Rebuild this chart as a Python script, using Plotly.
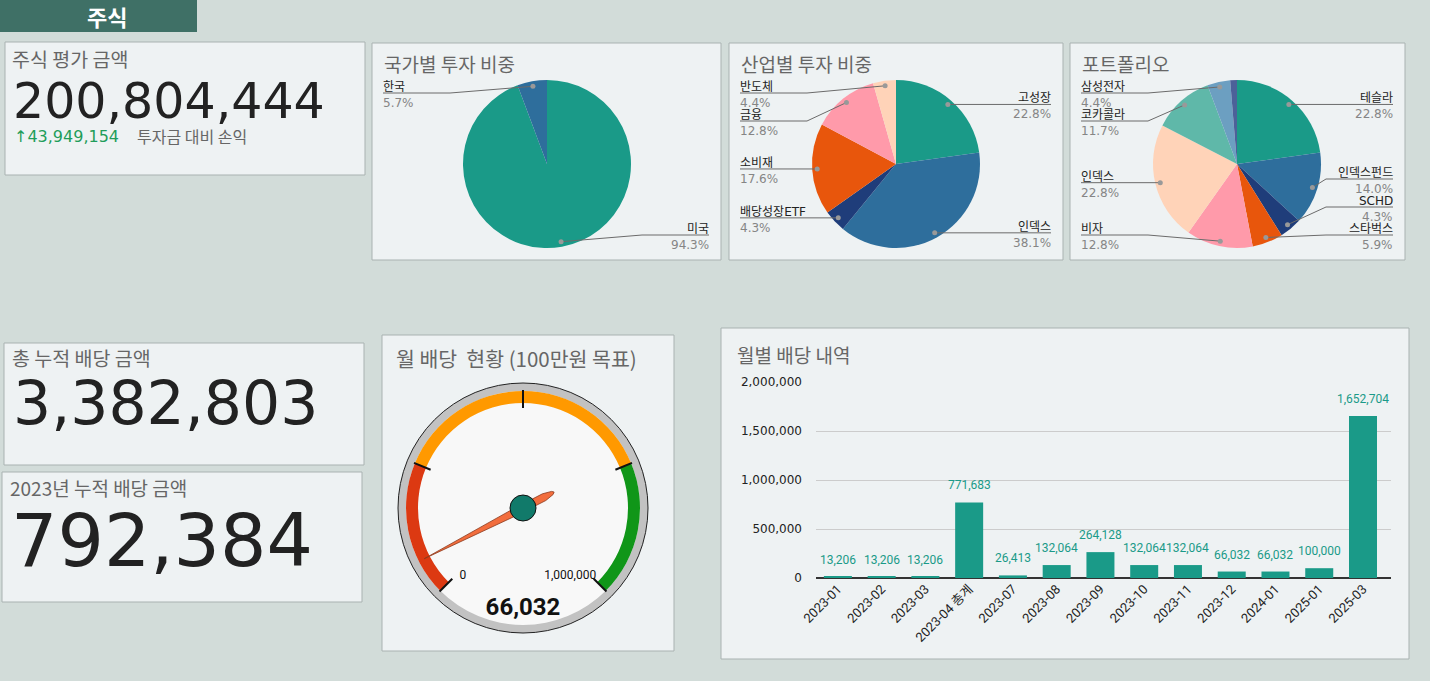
import math
import plotly.graph_objects as go

W, H = 1430, 681

# ---- data ----
stock_value = 200804444
stock_profit = 43949154
total_dividend = 3382803
dividend_2023 = 792384

country_labels = ["미국", "한국"]
country_values = [94.3, 5.7]

industry_labels = ["고성장", "인덱스", "배당성장ETF", "소비재", "금융", "반도체"]
industry_values = [22.8, 38.1, 4.3, 17.6, 12.8, 4.4]

portfolio_labels = ["테슬라", "인덱스펀드", "SCHD", "스타벅스", "비자", "인덱스", "코카콜라", "삼성전자", "기타"]
portfolio_values = [22.8, 14.0, 4.3, 5.9, 12.8, 22.8, 11.7, 4.4, 1.3]

gauge_value = 66032
gauge_max = 1000000
gauge_ticks = [0, 250000, 500000, 750000, 1000000]
gauge_bands = [(0, 250000), (250000, 750000), (750000, 1000000)]

months = ["2023-01", "2023-02", "2023-03", "2023-04 총계", "2023-07", "2023-08", "2023-09",
          "2023-10", "2023-11", "2023-12", "2024-01", "2025-01", "2025-03"]
month_dividends = [13206, 13206, 13206, 771683, 26413, 132064, 264128,
                   132064, 132064, 66032, 66032, 100000, 1652704]

# ---- style ----
KR = "Noto Sans CJK KR"
DV = "DejaVu Sans"
BG = "#d2dcd9"
PANEL = "#eef2f3"
PANEL_LINE = "#a9b2b1"
TEAL = "#1a9a88"
PIE_COLORS = ["#1a9a88", "#2e6e9c", "#1f3d7a", "#e8560c", "#ff9aaa",
              "#ffd3b8", "#5fb8a9", "#6c9fc1", "#4c6199"]
BAND_COLORS = ["#dc3912", "#ff9900", "#109618"]


def fx(x):
    return x / W


def fy(y):
    return 1 - y / H


shapes = []
annotations = []


def add_text(text, x, y, size, color="#666666", family=KR, anchor="left", bold=False):
    if anchor == "left":
        x -= 2  # annotation box padding
    annotations.append(dict(
        text=f"<b>{text}</b>" if bold else text, x=fx(x), y=fy(y), xref="paper", yref="paper",
        xanchor=anchor, yanchor="middle", showarrow=False,
        font=dict(size=size, color=color, family=family)))


# panel boxes
panels = [(5, 42, 365, 175), (372, 43, 721, 260), (729, 43, 1063, 260), (1070, 43, 1405, 260),
          (4, 343, 364, 465), (2, 472, 362, 602), (382, 335, 674, 651), (721, 328, 1409, 659)]
for x0, y0, x1, y1 in panels:
    shapes.append(dict(type="rect", xref="paper", yref="paper", layer="below",
                       x0=fx(x0), x1=fx(x1), y0=fy(y1), y1=fy(y0),
                       fillcolor=PANEL, line=dict(color=PANEL_LINE, width=1)))
shapes.append(dict(type="rect", xref="paper", yref="paper", layer="below",
                   x0=0, x1=fx(197), y0=fy(32), y1=1, fillcolor="#3f7066", line=dict(width=0)))

# header and KPI text
add_text("주식", 107, 16, 22, "white", anchor="center", bold=True)
add_text("주식 평가 금액", 12, 58, 19.5)
add_text(f"{stock_value:,}", 13, 101, 49, "#222222", DV)
add_text(f"↑{stock_profit:,}", 14, 136, 16, "#1f9d5a", DV)
add_text("투자금 대비 손익", 137, 136, 16)
add_text("총 누적 배당 금액", 12, 357, 19.5)
add_text(f"{total_dividend:,}", 13, 403, 60, "#222222", DV)
add_text("2023년 누적 배당 금액", 10, 487, 19)
add_text(f"{dividend_2023:,}", 11, 540, 73, "#222222", DV)
add_text("월 배당  현황 (100만원 목표)", 396, 358, 20.5)
add_text("월별 배당 내역", 737, 354, 19)

fig = go.Figure()

# ---- pies ----
pies = [
    ("국가별 투자 비중", country_labels, country_values, 547, 164, 372, 721),
    ("산업별 투자 비중", industry_labels, industry_values, 896, 164, 729, 1063),
    ("포트폴리오", portfolio_labels, portfolio_values, 1237, 164, 1070, 1405),
]
R = 84
for title, labels, values, cx, cy, px0, px1 in pies:
    add_text(title, px0 + 12, 63, 19)
    fig.add_trace(go.Pie(
        labels=labels, values=values, sort=False, direction="clockwise", rotation=0,
        textinfo="none", hoverinfo="label+percent", showlegend=False, automargin=False,
        marker=dict(colors=PIE_COLORS[:len(values)], line=dict(width=0)),
        domain=dict(x=[fx(cx - R), fx(cx + R)], y=[fy(cy + R), fy(cy - R)])))

    # leader labels, placed from the slice mid angles
    total = sum(values)
    acc = 0
    left, right = [], []
    for lab, v in zip(labels, values):
        ang = (acc + v / 2) / total * 2 * math.pi
        acc += v
        if v / total < 0.02:
            continue
        dx = cx + 0.94 * R * math.sin(ang)
        dy = cy - 0.94 * R * math.cos(ang)
        item = dict(label=lab, pct=f"{v / total * 100:.1f}%", dx=dx, dy=dy, y=dy)
        (right if math.sin(ang) >= 0 else left).append(item)
    top, bot, gap = cy - 71, cy + 71, 28
    for side, is_left in ((left, True), (right, False)):
        side.sort(key=lambda d: d["y"])
        prev = top - gap
        for d in side:
            d["y"] = max(d["y"], prev + gap)
            prev = d["y"]
        nxt = bot + gap
        for d in reversed(side):
            d["y"] = min(d["y"], nxt - gap)
            nxt = d["y"]
        for d in side:
            x0 = px0 + 11 if is_left else px1 - 12
            bend = min(x0 + 67, d["dx"]) if is_left else max(x0 - 67, d["dx"])
            shapes.append(dict(
                type="path", xref="paper", yref="paper", line=dict(color="#6b6b6b", width=1),
                path=f"M {fx(x0)},{fy(d['y'])} L {fx(bend)},{fy(d['y'])} L {fx(d['dx'])},{fy(d['dy'])}"))
            shapes.append(dict(type="circle", xref="paper", yref="paper",
                               x0=fx(d["dx"] - 2.5), x1=fx(d["dx"] + 2.5),
                               y0=fy(d["dy"] + 2.5), y1=fy(d["dy"] - 2.5),
                               fillcolor="#999999", line=dict(width=0)))
            anchor = "left" if is_left else "right"
            xa = x0 - 2 if is_left else x0 + 2
            annotations.append(dict(text=d["label"], x=fx(xa), y=fy(d["y"]), xref="paper", yref="paper",
                                    xanchor=anchor, yanchor="bottom", showarrow=False, yshift=-3,
                                    font=dict(size=12, color="#222222", family=DV + ", " + KR)))
            annotations.append(dict(text=d["pct"], x=fx(xa), y=fy(d["y"]), xref="paper", yref="paper",
                                    xanchor=anchor, yanchor="top", showarrow=False, yshift=-1,
                                    font=dict(size=12, color="#858585", family=DV)))

# ---- gauge (polar subplot, theta in degrees over a 270 degree sweep) ----
deg = 270 / gauge_max
fig.add_trace(go.Barpolar(r=[117], theta=[180], width=[360], base=0, subplot="polar",
                          marker=dict(color="#f8f8f8", line=dict(width=0)), hoverinfo="skip"))
fig.add_trace(go.Barpolar(
    r=[12] * len(gauge_bands), base=105, subplot="polar",
    theta=[(a + b) / 2 * deg for a, b in gauge_bands],
    width=[(b - a) * deg for a, b in gauge_bands],
    marker=dict(color=BAND_COLORS, line=dict(width=0)), hoverinfo="skip"))
tick_r, tick_t = [], []
for t in gauge_ticks:
    tick_r += [100, 118, None]
    tick_t += [t * deg, t * deg, None]
fig.add_trace(go.Scatterpolar(r=tick_r, theta=tick_t, mode="lines", subplot="polar",
                              line=dict(color="#111111", width=2), hoverinfo="skip"))
v = gauge_value * deg
needle = [(111, v), (4, v + 90), (12, v + 162), (24, v + 171), (33, v + 177), (35, v + 180),
          (33, v + 183), (24, v + 189), (12, v + 198), (4, v - 90), (111, v)]
fig.add_trace(go.Scatterpolar(r=[p[0] for p in needle], theta=[p[1] for p in needle],
                              mode="lines", fill="toself", fillcolor="#f26d3d", subplot="polar",
                              line=dict(color="#8a3a1e", width=0.8), hoverinfo="skip"))
fig.add_trace(go.Scatterpolar(r=[0], theta=[0], mode="markers", subplot="polar",
                              marker=dict(size=26, color="#117a6a", line=dict(color="#111111", width=1)),
                              hoverinfo="skip"))
fig.add_trace(go.Scatterpolar(r=[93], theta=[gauge_ticks[0] * deg - 2], mode="text", subplot="polar",
                              text=[f"{gauge_ticks[0]:,}"], textposition="middle right",
                              textfont=dict(size=12, color="#111111", family="Roboto"), hoverinfo="skip"))
fig.add_trace(go.Scatterpolar(r=[100], theta=[gauge_ticks[-1] * deg - 2], mode="text", subplot="polar",
                              text=[f"{gauge_ticks[-1]:,}"], textposition="middle left",
                              textfont=dict(size=12, color="#111111", family="Roboto"), hoverinfo="skip"))
fig.add_trace(go.Scatterpolar(r=[101], theta=[315], mode="text", subplot="polar",
                              text=[f"<b>{gauge_value:,}</b>"], textposition="middle center",
                              textfont=dict(size=24, color="#111111", family="Roboto"), hoverinfo="skip"))

# ---- monthly dividends bar chart ----
fig.add_trace(go.Bar(x=months, y=month_dividends, marker=dict(color=TEAL, line=dict(width=0)),
                     showlegend=False, hovertemplate="%{x}: %{y:,}<extra></extra>"))
for m, val in zip(months, month_dividends):
    annotations.append(dict(text=f"{val:,}", x=m, y=val, xref="x", yref="y", yanchor="bottom",
                            yshift=8, showarrow=False,
                            font=dict(size=12, color=TEAL, family="Roboto")))

fig.update_layout(
    width=W, height=H, margin=dict(l=0, r=0, t=0, b=0, autoexpand=False),
    paper_bgcolor=BG, plot_bgcolor="rgba(0,0,0,0)", showlegend=False,
    font=dict(family=KR, color="#222222"),
    shapes=shapes, annotations=annotations, bargap=0.36,
    polar=dict(
        domain=dict(x=[fx(398), fx(648)], y=[fy(633), fy(383)]),
        bgcolor="#c2c2c2",
        radialaxis=dict(range=[0, 125], visible=False),
        angularaxis=dict(rotation=225, direction="clockwise", showgrid=False, showticklabels=False,
                         ticks="", showline=True, linecolor="#222222", linewidth=1),
    ),
    xaxis=dict(domain=[fx(816), fx(1391)], type="category", tickangle=-45, showgrid=False,
               automargin=False, ticks="", tickfont=dict(size=13, color="#222222", family="Roboto, " + KR)),
    yaxis=dict(domain=[fy(578), fy(382)], range=[0, 2000000], dtick=500000, tickformat=",",
               automargin=False, gridcolor="#cccccc", zeroline=True, zerolinecolor="#333333",
               zerolinewidth=1.5, ticklabelstandoff=13,
               tickfont=dict(size=12, color="#222222", family=DV)),
)

fig.write_html("out.html", config=dict(displayModeBar=False),
               post_script="document.body.style.margin='0';")
